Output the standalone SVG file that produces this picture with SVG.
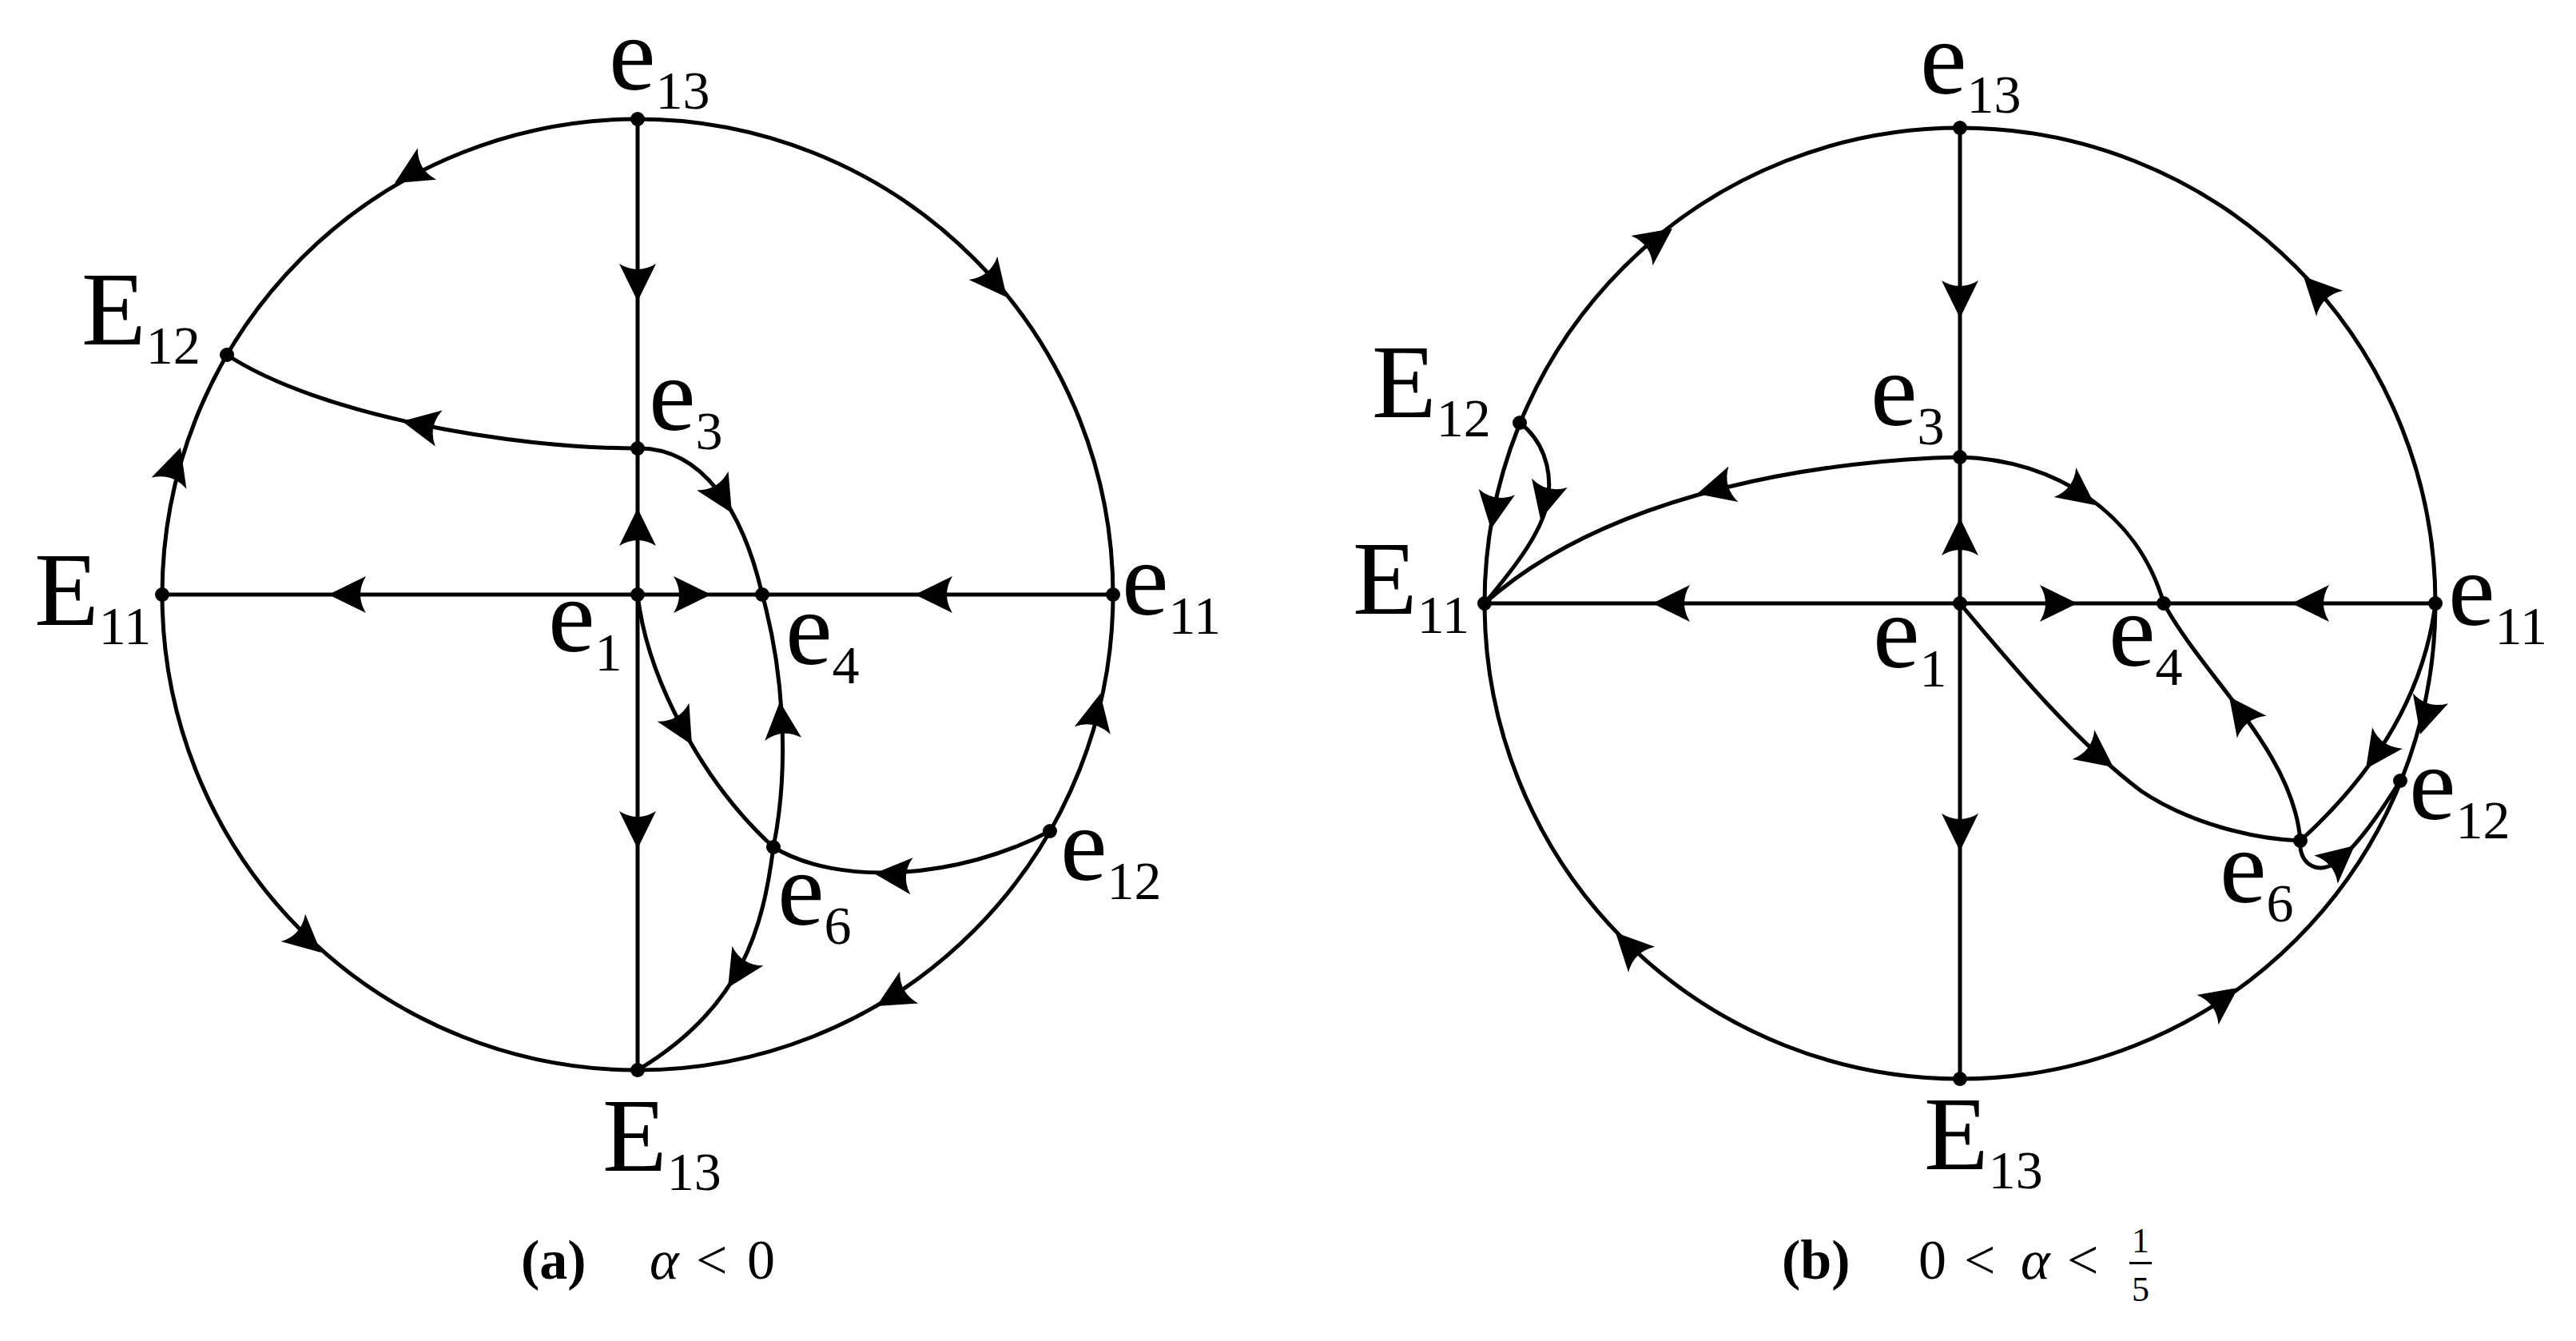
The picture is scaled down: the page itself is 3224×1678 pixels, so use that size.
<svg xmlns="http://www.w3.org/2000/svg" xmlns:xlink="http://www.w3.org/1999/xlink" width="3224" height="1678" viewBox="0 0 3224 1678">
<style>
.c{fill:none;stroke:#000;stroke-width:5}
.d{fill:#000}
.l{font-family:"Liberation Serif","Times New Roman",serif;font-size:132px;fill:#000}
.s{font-size:68px}
.cap{font-family:"Liberation Serif","Times New Roman",serif;font-size:70px;fill:#000}
.fr{font-family:"Liberation Serif","Times New Roman",serif;font-size:44px;fill:#000}
</style>
<defs>
<path id="ah" d="M0,0 L-47,-23 Q-33,0 -47,23 Z" fill="#000"/>
</defs>
<rect width="3224" height="1678" fill="#fff"/>
<g id="connectors">
<!-- left figure -->
<circle class="c" cx="798" cy="744" r="595"/>
<path class="c" d="M798,149 V1339"/>
<path class="c" d="M203,744 H1393"/>
<path class="c" d="M798,561 C640,561 400,520 284,444"/>
<path class="c" d="M798,561 C880,560 930,640 954,744"/>
<path class="c" d="M954,744 C978,830 990,950 968,1060"/>
<path class="c" d="M968,1060 C955,1160 930,1260 798,1339"/>
<path class="c" d="M798,744 C810,850 880,980 968,1060"/>
<path class="c" d="M968,1060 C1050,1110 1200,1100 1314,1040"/>
<use href="#ah" transform="translate(494,229) rotate(149.4)"/>
<use href="#ah" transform="translate(226,560) rotate(-72)"/>
<use href="#ah" transform="translate(1260,372) rotate(51)"/>
<use href="#ah" transform="translate(1377,868) rotate(-78)"/>
<use href="#ah" transform="translate(1097,1259) rotate(150)"/>
<use href="#ah" transform="translate(402,1192) rotate(41.5)"/>
<use href="#ah" transform="translate(798,377) rotate(90)"/>
<use href="#ah" transform="translate(798,636) rotate(-90)"/>
<use href="#ah" transform="translate(798,1062) rotate(90)"/>
<use href="#ah" transform="translate(411,744) rotate(180)"/>
<use href="#ah" transform="translate(890,744) rotate(0)"/>
<use href="#ah" transform="translate(1145,744) rotate(180)"/>
<use href="#ah" transform="translate(503,527) rotate(191)"/>
<use href="#ah" transform="translate(916,642) rotate(59)"/>
<use href="#ah" transform="translate(976,878) rotate(-95)"/>
<use href="#ah" transform="translate(911,1236) rotate(122)"/>
<use href="#ah" transform="translate(866,932) rotate(60)"/>
<use href="#ah" transform="translate(1094,1093) rotate(184)"/>
<!-- right figure -->
<circle class="c" cx="2453" cy="755" r="595"/>
<path class="c" d="M2453,160 V1350"/>
<path class="c" d="M1858,755 H3048"/>
<path class="c" d="M1902,529 C1930,550 1942,585 1938,620 C1934,660 1900,705 1858,755"/>
<path class="c" d="M2453,572 C2300,575 2020,610 1858,755"/>
<path class="c" d="M2453,572 C2570,575 2675,640 2708,755"/>
<path class="c" d="M2708,755 C2760,850 2870,940 2879,1052"/>
<path class="c" d="M2453,755 C2520,835 2600,930 2680,990 C2740,1030 2820,1050 2879,1052"/>
<path class="c" d="M3048,755 C3035,860 2980,960 2879,1052"/>
<path class="c" d="M2879,1052 C2876,1080 2900,1095 2922,1080 C2950,1060 2980,1015 3004,977"/>
<use href="#ah" transform="translate(2093,286) rotate(-36)"/>
<use href="#ah" transform="translate(2883,346) rotate(-134)"/>
<use href="#ah" transform="translate(1866,662) rotate(99)"/>
<use href="#ah" transform="translate(3029,919) rotate(106)"/>
<use href="#ah" transform="translate(2801,1236) rotate(-36)"/>
<use href="#ah" transform="translate(2022,1167) rotate(-134)"/>
<use href="#ah" transform="translate(1928,650) rotate(104)"/>
<use href="#ah" transform="translate(2124,618) rotate(165)"/>
<use href="#ah" transform="translate(2622,632) rotate(37)"/>
<use href="#ah" transform="translate(2790,872) rotate(-127)"/>
<use href="#ah" transform="translate(2645,960) rotate(37)"/>
<use href="#ah" transform="translate(2961,962) rotate(125)"/>
<use href="#ah" transform="translate(2947,1058) rotate(-40)"/>
<use href="#ah" transform="translate(2453,398) rotate(90)"/>
<use href="#ah" transform="translate(2453,648) rotate(-90)"/>
<use href="#ah" transform="translate(2453,1065) rotate(90)"/>
<use href="#ah" transform="translate(2068,755) rotate(180)"/>
<use href="#ah" transform="translate(2600,755) rotate(0)"/>
<use href="#ah" transform="translate(2868,755) rotate(180)"/>
</g>
<!-- left figure nodes -->
<g id="a-e13"><circle class="d" cx="798" cy="149" r="9"/><text class="l" x="762" y="112">e<tspan class="s" dy="24">13</tspan></text></g>
<g id="a-E12"><circle class="d" cx="284" cy="444" r="9"/><text class="l" x="102" y="431">E<tspan class="s" dy="24">12</tspan></text></g>
<g id="a-e3"><circle class="d" cx="798" cy="561" r="9"/><text class="l" x="812" y="538">e<tspan class="s" dy="24">3</tspan></text></g>
<g id="a-E11"><circle class="d" cx="203" cy="744" r="9"/><text class="l" x="43" y="782">E<tspan class="s" dy="24">11</tspan></text></g>
<g id="a-e1"><circle class="d" cx="798" cy="744" r="9"/><text class="l" x="686" y="815">e<tspan class="s" dy="24">1</tspan></text></g>
<g id="a-e4"><circle class="d" cx="954" cy="744" r="9"/><text class="l" x="983" y="831">e<tspan class="s" dy="24">4</tspan></text></g>
<g id="a-e11"><circle class="d" cx="1393" cy="744" r="9"/><text class="l" x="1404" y="769">e<tspan class="s" dy="24">11</tspan></text></g>
<g id="a-e6"><circle class="d" cx="968" cy="1060" r="9"/><text class="l" x="973" y="1157">e<tspan class="s" dy="24">6</tspan></text></g>
<g id="a-e12"><circle class="d" cx="1314" cy="1040" r="9"/><text class="l" x="1327" y="1101">e<tspan class="s" dy="24">12</tspan></text></g>
<g id="a-E13"><circle class="d" cx="798" cy="1339" r="9"/><text class="l" x="754" y="1465">E<tspan class="s" dy="24">13</tspan></text></g>
<!-- right figure nodes -->
<g id="b-e13"><circle class="d" cx="2453" cy="160" r="9"/><text class="l" x="2403" y="117">e<tspan class="s" dy="24">13</tspan></text></g>
<g id="b-E12"><circle class="d" cx="1902" cy="529" r="9"/><text class="l" x="1717" y="522">E<tspan class="s" dy="24">12</tspan></text></g>
<g id="b-e3"><circle class="d" cx="2453" cy="572" r="9"/><text class="l" x="2341" y="532">e<tspan class="s" dy="24">3</tspan></text></g>
<g id="b-E11"><circle class="d" cx="1858" cy="755" r="9"/><text class="l" x="1693" y="768">E<tspan class="s" dy="24">11</tspan></text></g>
<g id="b-e1"><circle class="d" cx="2453" cy="755" r="9"/><text class="l" x="2344" y="835">e<tspan class="s" dy="24">1</tspan></text></g>
<g id="b-e4"><circle class="d" cx="2708" cy="755" r="9"/><text class="l" x="2639" y="833">e<tspan class="s" dy="24">4</tspan></text></g>
<g id="b-e11"><circle class="d" cx="3048" cy="755" r="9"/><text class="l" x="3064" y="782">e<tspan class="s" dy="24">11</tspan></text></g>
<g id="b-e6"><circle class="d" cx="2879" cy="1052" r="9"/><text class="l" x="2778" y="1129">e<tspan class="s" dy="24">6</tspan></text></g>
<g id="b-e12"><circle class="d" cx="3004" cy="977" r="9"/><text class="l" x="3015" y="1025">e<tspan class="s" dy="24">12</tspan></text></g>
<g id="b-E13"><circle class="d" cx="2453" cy="1350" r="9"/><text class="l" x="2408" y="1463">E<tspan class="s" dy="24">13</tspan></text></g>
<!-- captions -->
<g id="caption-a">
<text class="cap" x="652" y="1600" font-weight="bold">(a)</text>
<text class="cap" x="813" y="1600" font-style="italic">α</text>
<text class="cap" x="871" y="1600">&lt;</text>
<text class="cap" x="935" y="1600">0</text>
</g>
<g id="caption-b">
<text class="cap" x="2230" y="1600" font-weight="bold">(b)</text>
<text class="cap" x="2401" y="1600">0</text>
<text class="cap" x="2458" y="1600">&lt;</text>
<text class="cap" x="2529" y="1600" font-style="italic">α</text>
<text class="cap" x="2587" y="1600">&lt;</text>
<text class="fr" x="2679" y="1567" text-anchor="middle">1</text>
<rect x="2665" y="1579" width="28" height="3" fill="#000"/>
<text class="fr" x="2679" y="1628" text-anchor="middle">5</text>
</g>
</svg>
